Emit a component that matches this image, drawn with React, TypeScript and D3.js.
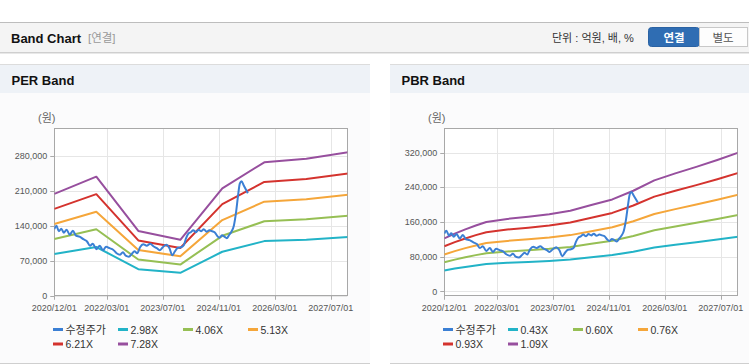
import React from "react";
import * as d3 from "d3";

// ---------- data ----------
const tickLabels = ["2020/12/01", "2022/03/01", "2023/07/01", "2024/11/01", "2026/03/01", "2027/07/01"];

// months since 2020/12
const perBandMonths = [0, 12, 24, 36, 48, 60, 72, 84];
const per298 = [83300, 97400, 53000, 45700, 87900, 109200, 112000, 117400];
const per406 = [113500, 132800, 72300, 62300, 119800, 148800, 152700, 160000];
const per513 = [143400, 167800, 91300, 78700, 151300, 188000, 192900, 202100];
const per621 = [173600, 203100, 110500, 95300, 183200, 227600, 233500, 244700];
const per728 = [203500, 238100, 129600, 111700, 214800, 266800, 273700, 286800];

const pbrBandMonths = [0, 3, 6, 9, 12, 18, 24, 30, 36, 42, 48, 54, 60, 66, 72, 78, 84];
const pbr043 = [48100, 52500, 56400, 59900, 63100, 65900, 67900, 70200, 73400, 78500, 83600, 91500, 101000, 107300, 113200, 119500, 126200];
const pbr060 = [67100, 73200, 78700, 83600, 88100, 91900, 94700, 98000, 102400, 109600, 116700, 127700, 140900, 149700, 158000, 166800, 176200];
const pbr076 = [85000, 92700, 99700, 105900, 111600, 116400, 119900, 124100, 129700, 138800, 147800, 161700, 178500, 189600, 200100, 211300, 223100];
const pbr093 = [104100, 113500, 122000, 129600, 136500, 142500, 146800, 151900, 158700, 169800, 180900, 197900, 218500, 232000, 244900, 258500, 273000];
const pbr109 = [122000, 133000, 143000, 152000, 160000, 167000, 172000, 178000, 186000, 199000, 212000, 232000, 256000, 272000, 287000, 303000, 320000];

const priceMonths = [
  0.0, 0.6, 1.3, 2.0, 2.7, 3.5, 4.4, 5.3, 6.2, 7.2, 8.3, 9.3, 10.2, 11.0, 12.0, 13.0, 13.9, 14.8, 15.8, 16.8,
  17.8, 18.8, 19.6, 20.4, 21.3, 22.2, 22.9, 23.7, 24.5, 25.4, 26.4, 27.4, 28.3, 29.3, 30.1, 31.0, 32.0, 32.9,
  33.7, 34.5, 35.3, 36.2, 37.0, 37.6, 38.3, 39.0, 39.7, 40.5, 41.2, 42.0, 42.7, 43.5, 44.3, 45.1, 45.8, 46.5,
  47.2, 47.9, 48.6, 49.3, 49.9, 50.6, 51.3, 51.9, 52.5, 53.0, 53.5, 54.1, 54.7, 55.3,
];
const priceValues = [
  133000, 140000, 129000, 134000, 126000, 132000, 122000, 130000, 120000, 118000, 113000, 109000, 100000, 104000,
  93000, 100000, 91000, 98000, 95000, 92000, 85000, 82000, 87000, 80000, 78000, 84000, 89000, 85000, 97000,
  103000, 100000, 104000, 99000, 95000, 91000, 97000, 102000, 95000, 81000, 89000, 96000, 97000, 101000, 114000,
  124000, 127000, 131000, 127000, 132000, 129000, 133000, 128000, 131000, 129000, 127000, 120000, 116000, 121000,
  118000, 115000, 121000, 128000, 140000, 165000, 200000, 224000, 229000, 221000, 213000, 205000,
];

const perLegend = ["수정주가", "2.98X", "4.06X", "5.13X", "6.21X", "7.28X"];
const pbrLegend = ["수정주가", "0.43X", "0.60X", "0.76X", "0.93X", "1.09X"];
const perTicks = [0, 70000, 140000, 210000, 280000];
const pbrTicks = [0, 80000, 160000, 240000, 320000];

const colors = ["#3b7fd4", "#22b3c7", "#96bf54", "#f5a63a", "#d4332e", "#974f9e"];

const FONT = "'Liberation Sans', 'Noto Sans CJK KR', sans-serif";

function monthOf(label: string) {
  const [y, m] = label.split("/").map(Number);
  return (y - 2020) * 12 + (m - 12);
}

type PanelProps = {
  x0: number;
  id: string;
  title: string;
  legend: string[];
  bandMonths: number[];
  bands: number[][];
  yDomain: [number, number];
  yTicks: number[];
};

function Panel({ x0, id, title, legend, bandMonths, bands, yDomain, yTicks }: PanelProps) {
  const L = x0 + 54.3, R = x0 + 347.3, T = 128.3, B = 295.7;
  const xs = d3.scaleLinear().domain([0, (R - L) / 3.5]).range([L, R]);
  const ys = d3.scaleLinear().domain(yDomain).range([B, T]);
  const fmt = d3.format(",");
  const bandLine = d3
    .line<[number, number]>()
    .x((d) => xs(d[0]))
    .y((d) => ys(d[1]));
  const priceLine = d3
    .line<[number, number]>()
    .x((d) => xs(d[0]))
    .y((d) => ys(d[1]))
    .curve(d3.curveMonotoneX);
  const pricePts: [number, number][] = priceMonths.map((m, i) => [m, priceValues[i]]);
  const xt = tickLabels.map((l) => ({ l, m: monthOf(l) }));

  return (
    <g>
      {/* panel background */}
      <rect x={x0} y={64} width={370} height={299} fill="#fbfbfc" />
      <rect x={x0} y={64.5} width={370} height={28.5} fill="#eef2f7" />
      <line x1={x0} x2={x0 + 370} y1={64.5} y2={64.5} stroke="#dcdcdc" />
      <line x1={x0} x2={x0 + 370} y1={363.5} y2={363.5} stroke="#cfcfcf" />
      <text x={x0 + 11.5} y={85} fontFamily={FONT} fontWeight="bold" fontSize={13} fill="#111">
        {title}
      </text>
      <text x={x0 + 38} y={122} fontFamily={FONT} fontSize={11} fill="#666">
        (원)
      </text>

      {/* plot bg */}
      <rect x={L} y={T} width={R - L} height={B - T} fill="#ffffff" />
      {/* grid */}
      {yTicks.map((t) => (
        <line key={"gy" + t} x1={L - 4} x2={R} y1={Math.round(ys(t)) + 0.5} y2={Math.round(ys(t)) + 0.5} stroke="#e6e6e6" />
      ))}
      {xt.map((t) => (
        <line key={"gx" + t.l} x1={Math.round(xs(t.m)) + 0.5} x2={Math.round(xs(t.m)) + 0.5} y1={T} y2={B + 4} stroke="#e6e6e6" />
      ))}
      {yTicks.map((t) => (
        <line key={"ty" + t} x1={L - 4} x2={L} y1={Math.round(ys(t)) + 0.5} y2={Math.round(ys(t)) + 0.5} stroke="#aaa" />
      ))}
      {xt.map((t) => (
        <line key={"tx" + t.l} x1={Math.round(xs(t.m)) + 0.5} x2={Math.round(xs(t.m)) + 0.5} y1={B} y2={B + 4} stroke="#aaa" />
      ))}
      <rect x={Math.round(L) + 0.5} y={Math.round(T) + 0.5} width={Math.round(R - L)} height={Math.round(B - T)} fill="none" stroke="#a8a8a8" />

      {/* tick labels */}
      {yTicks.map((t) => (
        <text key={"ly" + t} x={L - 7} y={ys(t) + 3.2} textAnchor="end" fontFamily={FONT} fontSize={9} fill="#555">
          {fmt(t)}
        </text>
      ))}
      {xt.map((t) => (
        <text key={"lx" + t.l} x={xs(t.m)} y={310.5} textAnchor="middle" fontFamily={FONT} fontSize={9} fill="#555">
          {t.l}
        </text>
      ))}

      {/* lines */}
      <clipPath id={id}>
        <rect x={L} y={T} width={R - L} height={B - T} />
      </clipPath>
      <g clipPath={`url(#${id})`} fill="none" strokeWidth={2} strokeLinejoin="round">
        {bands.map((b, i) => (
          <path
            key={"b" + i}
            d={bandLine(bandMonths.map((m, j) => [m, b[j]] as [number, number])) || ""}
            stroke={colors[i + 1]}
          />
        ))}
        <path d={priceLine(pricePts) || ""} stroke={colors[0]} />
      </g>

      {/* legend */}
      {legend.map((name, i) => {
        const col = i % 4;
        const row = Math.floor(i / 4);
        const lx = x0 + 53 + col * 65;
        const ly = 329.5 + row * 14.5;
        return (
          <g key={"lg" + i}>
            <line x1={lx} x2={lx + 10} y1={ly} y2={ly} stroke={colors[i]} strokeWidth={3} />
            <text x={lx + 12.5} y={ly + 4} fontFamily={FONT} fontSize={i === 0 ? 11 : 10.5} fill="#333">
              {name}
            </text>
          </g>
        );
      })}
    </g>
  );
}

export default function App() {
  return (
    <svg
      width={749}
      height={364}
      style={{ position: "absolute", left: 0, top: 0, background: "#fff" }}
    >
      {/* top header */}
      <rect x={0} y={22} width={749} height={31} fill="#f4f4f4" />
      <line x1={0} x2={749} y1={22.5} y2={22.5} stroke="#bdbdbd" />
      <line x1={0} x2={749} y1={52.5} y2={52.5} stroke="#cfcfcf" />
      <line x1={0} x2={749} y1={53.5} y2={53.5} stroke="#e8e8e8" />
      <text x={11} y={42.5} fontFamily={FONT} fontWeight="bold" fontSize={13} fill="#111">
        Band Chart
      </text>
      <text x={88} y={42} fontFamily={FONT} fontSize={11.5} fill="#999">
        [연결]
      </text>
      <text x={552} y={42} fontFamily={FONT} fontSize={11} fill="#333">
        단위 : 억원, 배, %
      </text>
      <rect x={648.5} y={27.5} width={51} height={19} rx={3} fill="#2f6db3" stroke="#2a62a3" />
      <rect x={696} y={28} width={4} height={18} fill="#2f6db3" />
      <text x={674} y={41.5} textAnchor="middle" fontFamily={FONT} fontWeight="bold" fontSize={11.5} fill="#fff">
        연결
      </text>
      <rect x={699.5} y={27.5} width={48} height={19} fill="#fdfdfd" stroke="#c8c8c8" />
      <text x={723} y={41.5} textAnchor="middle" fontFamily={FONT} fontSize={11.5} fill="#555">
        별도
      </text>

      <Panel
        x0={0}
        id="clipPer"
        title="PER Band"
        legend={perLegend}
        bandMonths={perBandMonths}
        bands={[per298, per406, per513, per621, per728]}
        yDomain={[0, 334800]}
        yTicks={perTicks}
      />
      <Panel
        x0={390}
        id="clipPbr"
        title="PBR Band"
        legend={pbrLegend}
        bandMonths={pbrBandMonths}
        bands={[pbr043, pbr060, pbr076, pbr093, pbr109]}
        yDomain={[-10000, 376000]}
        yTicks={pbrTicks}
      />
    </svg>
  );
}
